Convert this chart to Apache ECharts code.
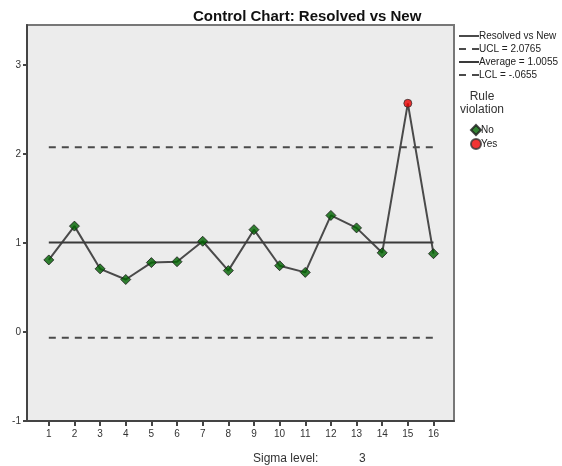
<!DOCTYPE html>
<html>
<head>
<meta charset="utf-8">
<script src="https://cdn.jsdelivr.net/npm/echarts@6/dist/echarts.min.js"></script>
<style>
  html, body { margin: 0; padding: 0; background: #fff; }
  #chart { width: 562px; height: 466px; }
</style>
</head>
<body>
<div id="chart"></div>
<script>
const samples = [1, 2, 3, 4, 5, 6, 7, 8, 9, 10, 11, 12, 13, 14, 15, 16];
const ratio = [0.81, 1.19, 0.71, 0.59, 0.78, 0.79, 1.02, 0.69, 1.15, 0.745, 0.67, 1.31, 1.17, 0.89, 2.57, 0.88];
const UCL = 2.0765;
const AVG = 1.0055;
const LCL = -0.0655;
const yTicks = [-1, 0, 1, 2, 3];

const LINE = "#4a4a4a";
const FONT = "Liberation Sans, Arial, sans-serif";

const points = samples.map((s, i) => [s, ratio[i]]);
const violation = (v) => v > UCL || v < LCL;
const noPts = points.filter((p) => !violation(p[1]));
const yesPts = points.filter((p) => violation(p[1]));
const flat = (v) => [[samples[0], v], [samples[samples.length - 1], v]];

const chart = echarts.init(document.getElementById("chart"));

chart.setOption({
  animation: false,
  textStyle: { fontFamily: FONT },
  title: [
    {
      text: "Control Chart: Resolved vs New",
      left: 188,
      top: 4,
      textStyle: { fontSize: 15, fontWeight: "bold", color: "#111", fontFamily: FONT },
    },
    {
      text: "Rule\nviolation",
      left: 477,
      top: 85,
      textAlign: "center",
      textStyle: { fontSize: 12, fontWeight: "normal", color: "#333", lineHeight: 13, fontFamily: FONT },
    },
    {
      text: "Sigma level:",
      left: 248,
      top: 448,
      textStyle: { fontSize: 12, fontWeight: "normal", color: "#333", fontFamily: FONT },
    },
    {
      text: "3",
      left: 354,
      top: 448,
      textStyle: { fontSize: 12, fontWeight: "normal", color: "#333", fontFamily: FONT },
    },
  ],
  legend: [
    {
      orient: "vertical",
      left: 453,
      top: 26,
      itemGap: 3,
      itemWidth: 20,
      itemHeight: 10,
      itemStyle: { opacity: 0 },
      textStyle: { fontSize: 10, color: "#222", padding: [0, 0, 0, -5] },
      data: ["Resolved vs New", "UCL = 2.0765", "Average = 1.0055", "LCL = -.0655"],
    },
    {
      orient: "vertical",
      left: 465,
      top: 119,
      itemGap: 2,
      itemWidth: 10,
      itemHeight: 10,
      textStyle: { fontSize: 10, color: "#222", padding: [0, 0, 0, -5] },
      data: ["No", "Yes"],
    },
  ],
  grid: {
    left: 27,
    right: 108,
    top: 25,
    bottom: 45,
    show: true,
    backgroundColor: "#ececec",
    borderColor: "#777",
    borderWidth: 2,
  },
  xAxis: {
    type: "value",
    min: 0.15,
    max: 16.8,
    splitLine: { show: false },
    axisLine: { show: true, onZero: false, lineStyle: { color: "#444", width: 2 } },
    axisTick: { show: true, length: 5, customValues: samples, lineStyle: { color: "#444", width: 2 } },
    axisLabel: { customValues: samples, fontSize: 10, color: "#333", margin: 8 },
  },
  yAxis: {
    type: "value",
    min: -1,
    max: 3.45,
    splitLine: { show: false },
    axisLine: { show: true, onZero: false, lineStyle: { color: "#444", width: 2 } },
    axisTick: { show: true, length: 4, customValues: yTicks, lineStyle: { color: "#444", width: 2 } },
    axisLabel: { customValues: yTicks, fontSize: 10, color: "#333", margin: 6 },
  },
  series: [
    {
      name: "Resolved vs New",
      type: "line",
      data: points,
      symbol: "none",
      itemStyle: { color: "#222" },
      lineStyle: { color: LINE, width: 2 },
      z: 3,
    },
    {
      name: "UCL = 2.0765",
      type: "line",
      data: flat(UCL),
      symbol: "none",
      itemStyle: { color: "#555" },
      lineStyle: { color: LINE, width: 2, type: [7, 6] },
    },
    {
      name: "Average = 1.0055",
      type: "line",
      data: flat(AVG),
      symbol: "none",
      itemStyle: { color: "#555" },
      lineStyle: { color: "#3a3a3a", width: 2, type: "solid" },
    },
    {
      name: "LCL = -.0655",
      type: "line",
      data: flat(LCL),
      symbol: "none",
      itemStyle: { color: "#555" },
      lineStyle: { color: LINE, width: 2, type: [7, 6] },
    },
    {
      name: "No",
      type: "scatter",
      data: noPts,
      symbol: "diamond",
      symbolSize: 10,
      itemStyle: { color: "#006400", borderColor: "#1a1a1a", borderWidth: 1 },
      z: 5,
    },
    {
      name: "Yes",
      type: "scatter",
      data: yesPts,
      symbol: "circle",
      symbolSize: 8,
      itemStyle: { color: "#ee0000", borderColor: "#333", borderWidth: 1 },
      z: 5,
    },
  ],
});
</script>
</body>
</html>
